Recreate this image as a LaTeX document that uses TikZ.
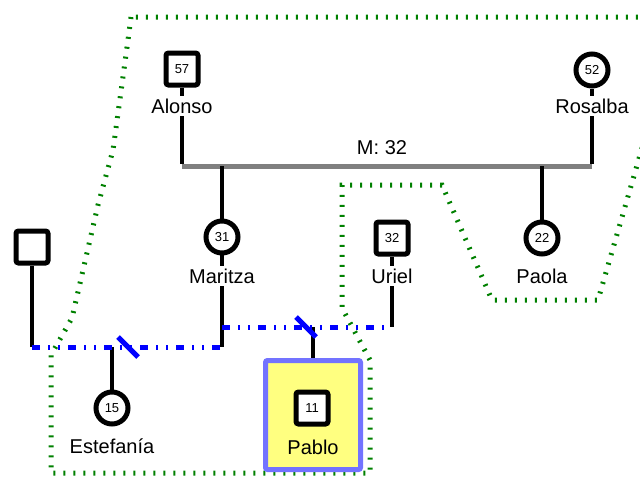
\documentclass[tikz,border=0pt]{standalone}
\usepackage{fontspec}
\setmainfont{Liberation Sans}
\usetikzlibrary{calc,backgrounds}

\definecolor{unionblue}{RGB}{0,0,255}
\definecolor{homegreen}{RGB}{0,128,0}
\definecolor{indexfill}{RGB}{255,255,128}
\definecolor{indexline}{RGB}{115,115,255}
\definecolor{wedgray}{RGB}{128,128,128}

\tikzset{
  kin/.style={line width=4.5pt},
  male/.style={draw, fill=white, line width=5pt, rounded corners=2.5pt, minimum size=32pt, inner sep=0pt, font=\fontsize{13}{13}\selectfont},
  female/.style={draw, fill=white, circle, line width=5pt, minimum size=32pt, inner sep=0pt, font=\fontsize{13}{13}\selectfont},
  tag/.style={fill=white, inner sep=2.5pt, font=\fontsize{20}{20}\selectfont},
  union/.style={unionblue, line width=5pt, dash pattern=on 7.5pt off 8.5pt on 1.5pt off 8.5pt on 1.5pt off 8.5pt},
  cut/.style={unionblue, line width=5pt},
  wed/.style={wedgray, line width=5pt},
  household/.style={homegreen, line width=5pt, dash pattern=on 2pt off 8pt},
  index/.style={draw=indexline, fill=indexfill, line width=5pt, rounded corners=2pt}
}

\begin{document}
\begin{tikzpicture}[x=1pt, y=-1pt]
		%%%%% START %%%%%
		\useasboundingbox (0,0) rectangle (640,477);
		\clip (0,0) rectangle (640,477);
		
		\coordinate (m1) at (182,166);
		\coordinate (m2) at (592,166);
		\coordinate (u1a) at (32,347);
		\coordinate (u1b) at (222,347);
		\coordinate (u2a) at (222,327);
		\coordinate (u2b) at (392,327);
		\coordinate (d1) at (128,347);
		\coordinate (d2) at (306,327);
		
		% grandparents
		\node[male] (alonso) at (182,69) {57};
		\node[tag] (alonso-t) at (182,106) {Alonso};
		\node[female] (rosalba) at (592,70) {52};
		\node[tag] (rosalba-t) at (592,106) {Rosalba};
		\node[font=\fontsize{20}{20}\selectfont] (wed-t) at (382,148) {M: 32};
		
		% children and partners
		\node[male] (partner) at (32,247) {};
		\node[female] (maritza) at (222,237) {31};
		\node[tag] (maritza-t) at (222,276) {Maritza};
		\node[male] (uriel) at (392,238) {32};
		\node[tag] (uriel-t) at (392,276) {Uriel};
		\node[female] (paola) at (542,238) {22};
		\node[tag] (paola-t) at (542,276) {Paola};
		
		% grandchildren
		\node[female] (estefania) at (112,408) {15};
		\node[tag] (estefania-t) at (112,446) {Estefanía};
		
		\begin{pgfonlayer}{background}
		\draw[household] (131,17) -- (128,40) -- (113,150) -- (98,205) -- (72,318) -- (51,355)
			-- (51,473) -- (370,473) -- (370,360) -- (342,308) -- (342,185) -- (442,185)
			-- (492,300) -- (598,300) -- (680,17) -- cycle;
		
		\node[index, minimum width=95pt, minimum height=109pt] (pablobox) at (313,415) {};
		
		\draw[wed] (m1) -- (m2);
		\draw[kin] (alonso) -- ([yshift=2pt]m1);
		\draw[kin] (rosalba) -- ([yshift=2pt]m2);
		\draw[kin] (maritza |- m1) -- (u1b);
		\draw[kin] (paola |- m1) -- (paola);
		\draw[kin] (partner) -- (u1a);
		\draw[kin] (uriel) -- (u2b);
		\draw[kin] (estefania |- u1a) -- (estefania);
		\draw[kin] (pablobox.north |- u2a) -- (pablobox.north);
		
		\draw[union] (u1a) -- (u1b);
		\draw[union] (u2a) -- (u2b);
		\draw[cut] ($(d1)+(-10,-10)$) -- ($(d1)+(10,10)$);
		\draw[cut] ($(d2)+(-10,-10)$) -- ($(d2)+(10,10)$);
		\end{pgfonlayer}
		
		\node[male] (pablo) at (312,408) {11};
		\node[tag, fill=none] (pablo-t) at (313,447) {Pablo};
		
		%%%%% END %%%%%
\end{tikzpicture}
\end{document}
